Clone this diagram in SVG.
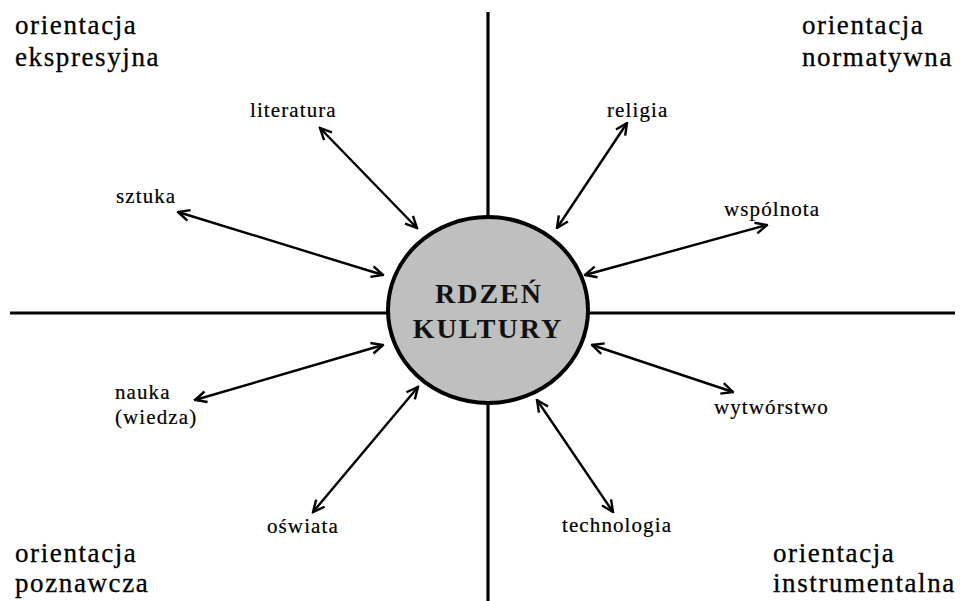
<svg xmlns="http://www.w3.org/2000/svg" width="960" height="601" viewBox="0 0 960 601">
<style>
.corner{font-family:"Liberation Serif","Times New Roman",serif;font-size:27px;letter-spacing:1.6px;fill:#000;stroke:#000;stroke-width:0.3}
.lbl{font-family:"Liberation Serif","Times New Roman",serif;font-size:21px;letter-spacing:1.1px;fill:#000;stroke:#000;stroke-width:0.2}
.core{font-family:"Liberation Serif","Times New Roman",serif;font-size:28px;font-weight:bold;letter-spacing:2px;fill:#111;text-anchor:middle}
.axis{stroke:#000;stroke-width:3.2;fill:none}
.arr{stroke:#000;stroke-width:2.4;fill:none;marker-start:url(#ah);marker-end:url(#ah)}
</style>
<defs>
<marker id="ah" viewBox="0 0 14 14" markerWidth="14" markerHeight="14" refX="12.5" refY="7" orient="auto-start-reverse" markerUnits="userSpaceOnUse">
<path d="M1,1.5 L12.5,7 L1,12.5" fill="none" stroke="#000" stroke-width="2.4" stroke-linejoin="miter"/>
</marker>
</defs>
<rect width="960" height="601" fill="#fff"/>
<g id="axes">
<line class="axis" x1="488" y1="12" x2="488" y2="601"/>
<line class="axis" x1="10" y1="313" x2="955" y2="313"/>
</g>
<g id="connectors">
<line class="arr" x1="320" y1="128" x2="417" y2="228"/>
<line class="arr" x1="178" y1="212" x2="383" y2="275"/>
<line class="arr" x1="627" y1="123" x2="557" y2="228"/>
<line class="arr" x1="767" y1="225" x2="585" y2="275"/>
<line class="arr" x1="195" y1="400" x2="383" y2="345"/>
<line class="arr" x1="313" y1="512" x2="418" y2="387"/>
<line class="arr" x1="592" y1="345" x2="733" y2="392"/>
<line class="arr" x1="537" y1="400" x2="613" y2="512"/>
</g>
<g id="core">
<ellipse cx="488" cy="310" rx="100" ry="93" fill="#bfbfbf" stroke="#000" stroke-width="4"/>
<text class="core" x="489" y="303">RDZEŃ</text>
<text class="core" x="488" y="338">KULTURY</text>
</g>
<g id="orient-ekspresyjna">
<text class="corner" x="15" y="34">orientacja</text>
<text class="corner" x="15" y="66">ekspresyjna</text>
</g>
<g id="orient-normatywna">
<text class="corner" x="802" y="34">orientacja</text>
<text class="corner" x="802" y="66">normatywna</text>
</g>
<g id="orient-poznawcza">
<text class="corner" x="15" y="562">orientacja</text>
<text class="corner" x="15" y="592">poznawcza</text>
</g>
<g id="orient-instrumentalna">
<text class="corner" x="773" y="562">orientacja</text>
<text class="corner" x="773" y="592">instrumentalna</text>
</g>
<g id="literatura"><text class="lbl" x="250" y="117">literatura</text></g>
<g id="sztuka"><text class="lbl" x="116" y="203">sztuka</text></g>
<g id="religia"><text class="lbl" x="607" y="117">religia</text></g>
<g id="wspolnota"><text class="lbl" x="724" y="216">wspólnota</text></g>
<g id="nauka"><text class="lbl" x="115" y="399">nauka</text><text class="lbl" x="115" y="424">(wiedza)</text></g>
<g id="oswiata"><text class="lbl" x="267" y="533">oświata</text></g>
<g id="wytworstwo"><text class="lbl" x="714" y="414">wytwórstwo</text></g>
<g id="technologia"><text class="lbl" x="562" y="532">technologia</text></g>
</svg>
